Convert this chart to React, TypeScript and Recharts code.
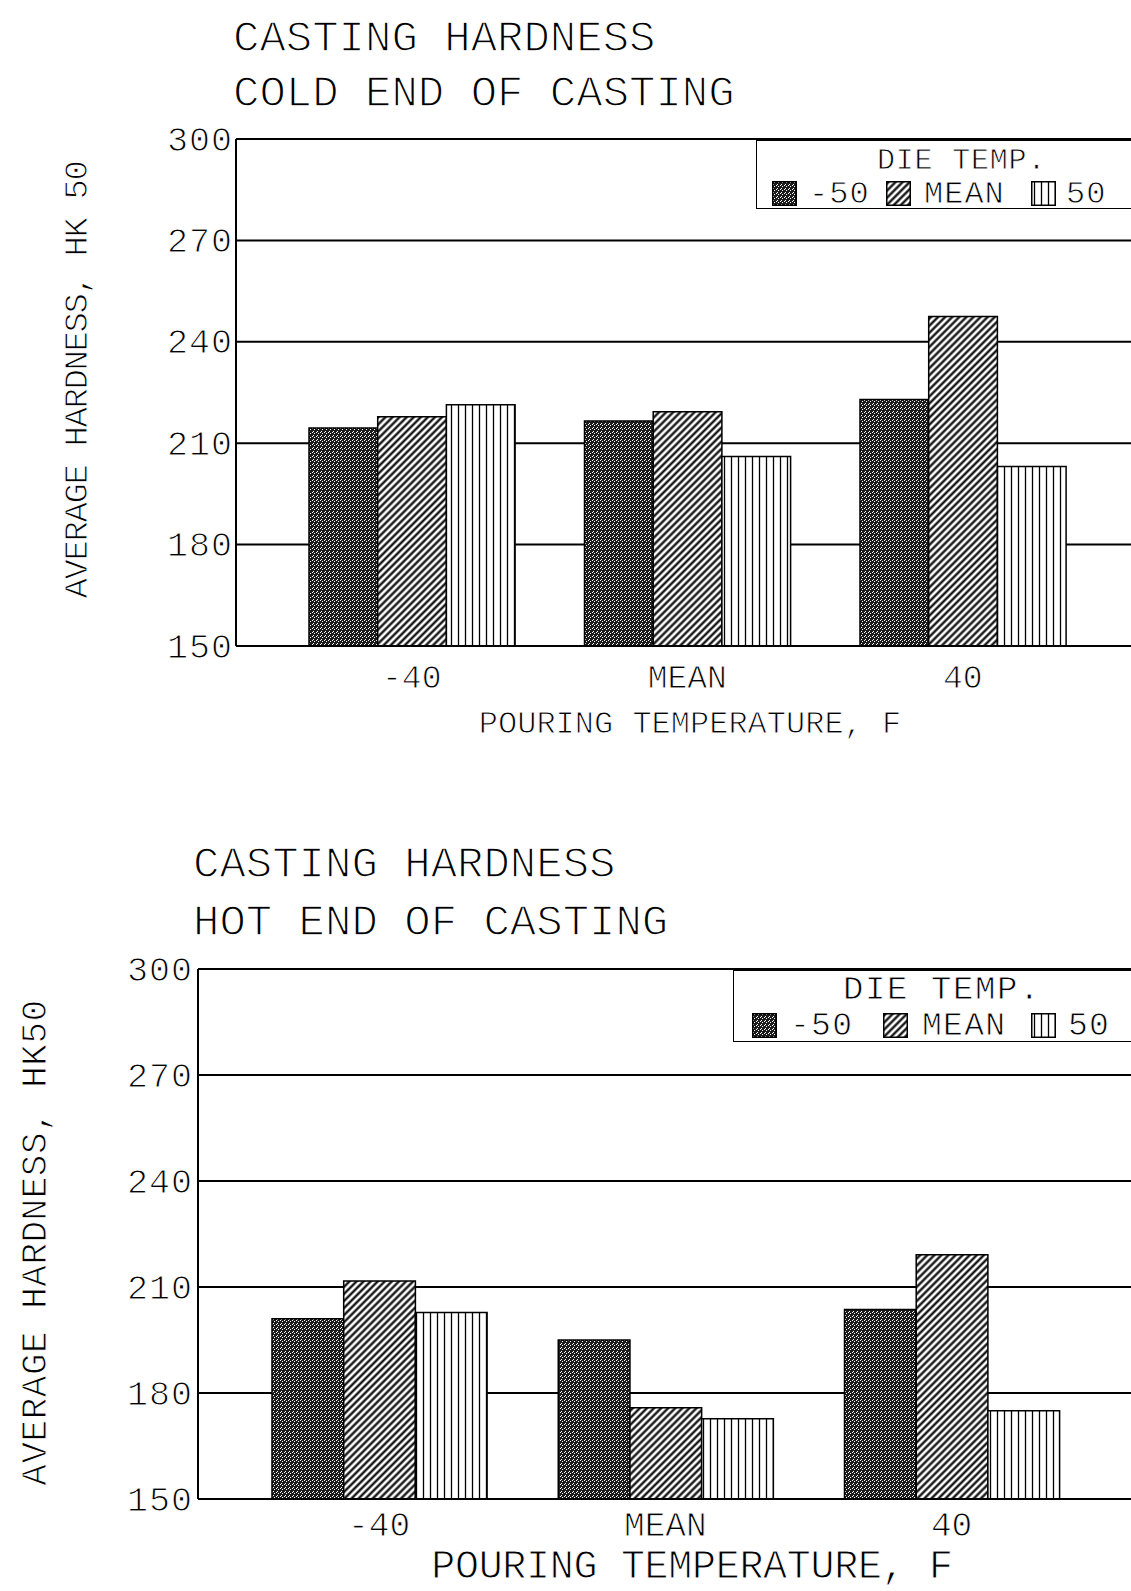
import React from 'react'
import { BarChart, Bar, XAxis, YAxis, CartesianGrid, Legend } from 'recharts'

const pouringTemps = ['-40', 'MEAN', '40']
const dieTemps = ['-50', 'MEAN', '50']
const hardnessTicks = [150, 180, 210, 240, 270, 300]

// cold end of casting, HK 50
const coldDieLow = [214.5, 216.6, 222.9]
const coldDieMean = [217.8, 219.3, 247.5]
const coldDieHigh = [221.4, 206.1, 203.1]

// hot end of casting, HK50
const hotDieLow = [201.0, 195.0, 203.6]
const hotDieMean = [211.7, 175.8, 219.1]
const hotDieHigh = [202.8, 172.7, 175.0]

const FONT = '"Liberation Mono", "DejaVu Sans Mono", monospace'
const CAP = 0.66
const seriesKeys = ['low', 'mean', 'high']
const seriesFills = ['url(#stipple)', 'url(#hatch)', 'url(#vlines)']

// plotter-style thin strokes: a white outline eats into the glyphs
const thin = (w: number) => ({ stroke: '#fff', strokeWidth: w })

const makeRows = (low: number[], mean: number[], high: number[]) =>
  pouringTemps.map((temp, i) => ({ temp, low: low[i], mean: mean[i], high: high[i] }))

const TOP_CFG = {
  top: 0,
  width: 1160,
  height: 770,
  marginTop: 139,
  marginRight: 19.5,
  axisWidth: 236,
  xAxisHeight: 124,
  barSize: 68.7,
  yTickFs: 35,
  yTickGap: 3,
  xTickFs: 33,
  xTickDy: 42,
  xTitleFs: 32,
  xTitleLs: 0,
  xTitleX: 690,
  xTitleDy: 86.5,
  yTitleFs: 34,
  yTitleLs: -1.4,
  yTitleX: 76,
  yTitleCy: 380,
  legend: {
    left: 756,
    top: 140,
    height: 69,
    titleLeft: 120,
    titleFs: 30,
    titleLs: 0.8,
    titleCy: 18,
    itemFs: 32,
    itemLs: 1,
    itemCy: 52,
    swatchLefts: [15, 129, 274],
    textLefts: [52, 167, 309],
  },
}

const BOTTOM_CFG = {
  top: 800,
  width: 1160,
  height: 791,
  marginTop: 169,
  marginRight: 25.25,
  axisWidth: 198,
  xAxisHeight: 92,
  barSize: 71.7,
  yTickFs: 35,
  yTickGap: 5,
  xTickFs: 34.5,
  xTickDy: 37,
  xTitleFs: 40,
  xTitleLs: -0.3,
  xTitleX: 692,
  xTitleDy: 79,
  yTitleFs: 36,
  yTitleLs: 0.5,
  yTitleX: 34,
  yTitleCy: 442.5,
  legend: {
    left: 733,
    top: 170,
    height: 72,
    titleLeft: 109,
    titleFs: 34,
    titleLs: 1.6,
    titleCy: 17,
    itemFs: 33,
    itemLs: 1.3,
    itemCy: 54,
    swatchLefts: [18, 149, 297],
    textLefts: [56, 188, 334],
  },
}

function DieLegend({ cfg }: { cfg: any }) {
  // line box of 0.8em, top placed so the capitals centre on cy
  const textStyle = (cy: number, fs: number, ls: number, left: number): React.CSSProperties => ({
    position: 'absolute',
    left,
    top: cy - 0.4 * fs + 0.0635 * fs,
    fontSize: fs,
    letterSpacing: ls,
    lineHeight: `${0.8 * fs}px`,
    whiteSpace: 'nowrap',
    WebkitTextStroke: '0.8px #fff',
  })
  return (
    <div
      style={{
        position: 'relative',
        width: 430,
        height: cfg.height,
        background: '#fff',
        border: '1.5px solid #000',
        borderRight: 'none',
        boxSizing: 'border-box',
        fontFamily: FONT,
        color: '#000',
      }}
    >
      <div style={textStyle(cfg.titleCy, cfg.titleFs, cfg.titleLs, cfg.titleLeft)}>DIE TEMP.</div>
      {dieTemps.map((d, i) => (
        <React.Fragment key={d}>
          <svg width={25} height={25} style={{ position: 'absolute', left: cfg.swatchLefts[i], top: cfg.itemCy - 12.5 }}>
            <rect x={0.75} y={0.75} width={23.5} height={23.5} fill={seriesFills[i]} stroke="#000" strokeWidth={1.5} />
          </svg>
          <div style={textStyle(cfg.itemCy, cfg.itemFs, cfg.itemLs, cfg.textLefts[i])}>{d}</div>
        </React.Fragment>
      ))}
    </div>
  )
}

function HardnessPanel({ rows, cfg, yTitle }: { rows: any[]; cfg: any; yTitle: string }) {
  return (
    <div style={{ position: 'absolute', left: 0, top: cfg.top }}>
      <BarChart
        width={cfg.width}
        height={cfg.height}
        data={rows}
        margin={{ top: cfg.marginTop, right: cfg.marginRight, bottom: 0, left: 0 }}
        barGap={0}
        barSize={cfg.barSize}
      >
        <CartesianGrid vertical={false} stroke="#000" strokeWidth={2} />
        <XAxis
          dataKey="temp"
          height={cfg.xAxisHeight}
          padding={{ left: 38, right: 40 }}
          interval={0}
          tickLine={false}
          tickSize={0}
          tickMargin={0}
          axisLine={{ stroke: '#000', strokeWidth: 2 }}
          tick={(p: any) => (
            <text
              x={p.x}
              y={p.y + cfg.xTickDy}
              textAnchor="middle"
              fontFamily={FONT}
              fontSize={cfg.xTickFs}
              fill="#000"
              {...thin(0.9)}
            >
              {p.payload.value}
            </text>
          )}
          label={{
            content: (p: any) => (
              <text
                x={cfg.xTitleX}
                y={p.viewBox.y + cfg.xTitleDy}
                textAnchor="middle"
                fontFamily={FONT}
                fontSize={cfg.xTitleFs}
                letterSpacing={cfg.xTitleLs}
                fill="#000"
                {...thin(1)}
              >
                POURING TEMPERATURE, F
              </text>
            ),
          }}
        />
        <YAxis
          type="number"
          domain={[150, 300]}
          ticks={hardnessTicks}
          interval={0}
          width={cfg.axisWidth}
          tickLine={false}
          tickSize={0}
          tickMargin={0}
          axisLine={{ stroke: '#000', strokeWidth: 2 }}
          tick={(p: any) => (
            <text
              x={p.x - cfg.yTickGap}
              y={p.y + (CAP * cfg.yTickFs) / 2}
              textAnchor="end"
              fontFamily={FONT}
              fontSize={cfg.yTickFs}
              letterSpacing={1}
              fill="#000"
              {...thin(1)}
            >
              {p.payload.value}
            </text>
          )}
          label={{
            content: () => (
              <text
                x={cfg.yTitleX}
                y={cfg.yTitleCy}
                dy={(CAP * cfg.yTitleFs) / 2}
                transform={`rotate(-90 ${cfg.yTitleX} ${cfg.yTitleCy})`}
                textAnchor="middle"
                fontFamily={FONT}
                fontSize={cfg.yTitleFs}
                letterSpacing={cfg.yTitleLs}
                fill="#000"
                {...thin(1)}
              >
                {yTitle}
              </text>
            ),
          }}
        />
        <Legend
          layout="horizontal"
          verticalAlign="middle"
          align="center"
          wrapperStyle={{ left: cfg.legend.left, top: cfg.legend.top, width: 'auto' }}
          content={() => <DieLegend cfg={cfg.legend} />}
        />
        {seriesKeys.map((k, i) => (
          <Bar
            key={k}
            dataKey={k}
            name={dieTemps[i]}
            fill={seriesFills[i]}
            stroke="#000"
            strokeWidth={1.5}
            isAnimationActive={false}
          />
        ))}
      </BarChart>
    </div>
  )
}

export default function App() {
  const coldRows = makeRows(coldDieLow, coldDieMean, coldDieHigh)
  const hotRows = makeRows(hotDieLow, hotDieMean, hotDieHigh)
  const titleFs = 44

  return (
    <div style={{ position: 'absolute', left: 0, top: 0, width: 1131, height: 1591, overflow: 'hidden', background: '#fff' }}>
      <svg width={1131} height={1591} style={{ position: 'absolute', left: 0, top: 0 }}>
        <defs>
          <pattern id="stipple" patternUnits="userSpaceOnUse" width={4} height={4}>
            <rect width={4} height={4} fill="#1c1c1c" />
            <rect x={0} y={0} width={1} height={1} fill="#fff" />
            <rect x={2} y={1} width={1} height={1} fill="#fff" />
            <rect x={1} y={3} width={1} height={1} fill="#fff" />
          </pattern>
          <pattern id="hatch" patternUnits="userSpaceOnUse" width={5} height={5} patternTransform="rotate(45)">
            <rect width={5} height={5} fill="#fff" />
            <line x1={2.5} y1={0} x2={2.5} y2={5} stroke="#000" strokeWidth={2.2} />
          </pattern>
          <pattern id="vlines" patternUnits="userSpaceOnUse" width={7} height={10}>
            <rect width={7} height={10} fill="#fff" />
            <line x1={3.5} y1={0} x2={3.5} y2={10} stroke="#000" strokeWidth={1.3} />
          </pattern>
        </defs>
        <g fontFamily={FONT} fontSize={titleFs} fill="#000" {...thin(1.4)}>
          <text x={233} y={50.5}>CASTING HARDNESS</text>
          <text x={233} y={105.5}>COLD END OF CASTING</text>
          <text x={193} y={876.5}>CASTING HARDNESS</text>
          <text x={193} y={934.5}>HOT END OF CASTING</text>
        </g>
      </svg>
      <HardnessPanel rows={coldRows} cfg={TOP_CFG} yTitle="AVERAGE HARDNESS, HK 50" />
      <HardnessPanel rows={hotRows} cfg={BOTTOM_CFG} yTitle="AVERAGE HARDNESS, HK50" />
    </div>
  )
}
